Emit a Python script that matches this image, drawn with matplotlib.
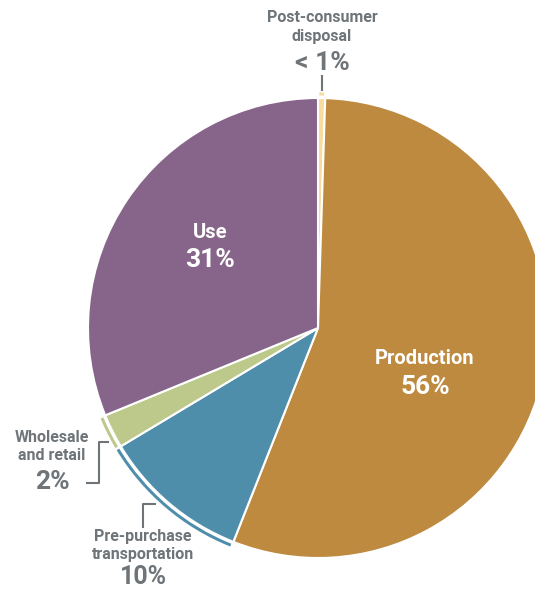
import matplotlib
matplotlib.use("Agg")
import matplotlib.pyplot as plt
from matplotlib.patches import Wedge

categories = ["Post-consumer disposal", "Production", "Pre-purchase transportation",
              "Wholesale and retail", "Use"]
values = [0.5, 55.5, 10.4, 2.4, 31.2]
labels_pct = ["< 1%", "56%", "10%", "2%", "31%"]
colors = ["#F7DC9F", "#BD8A3F", "#4F8EAB", "#BDC98A", "#87648A"]

W, H = 535, 590
fig = plt.figure(figsize=(W / 100, H / 100), dpi=100)
ax = fig.add_axes([0, 0, 1, 1])
ax.set_xlim(0, W)
ax.set_ylim(0, H)
ax.set_aspect("equal")
ax.axis("off")

cx, cy, R = 318, H - 328, 230
wedges, _ = ax.pie(values, colors=colors, startangle=90, counterclock=False,
                   center=(cx, cy), radius=R, frame=True,
                   wedgeprops=dict(edgecolor="white", linewidth=1.5))
ax.set_xlim(0, W)
ax.set_ylim(0, H)
ax.axis("off")

# outer accent rings for small labelled slices
for i in (0, 2, 3):
    w = wedges[i]
    ax.add_patch(Wedge((cx, cy), R + 5.5, w.theta1 + 0.3, w.theta2 - 0.3, width=3,
                       facecolor=colors[i], edgecolor="none"))

grey = "#6E7478"
fam = ["Roboto", "DejaVu Sans"]

def y(p):
    return H - p

# leader lines
ax.plot([322, 322], [y(75), y(91)], color=grey, lw=1.5, solid_capstyle="butt")
ax.plot([108, 99, 99, 87], [y(442), y(442), y(483), y(483)], color=grey, lw=1.5)
ax.plot([155, 143, 143], [y(504), y(504), y(527)], color=grey, lw=1.5)

def label(x, yy, lines, pct, col, fs_small, fs_big, gap_small=18, gap_big=26):
    for k, t in enumerate(lines):
        ax.text(x, y(yy + k * gap_small), t, ha="center", va="center", color=col,
                fontsize=fs_small, fontweight="bold", family=fam)
    ax.text(x, y(yy + (len(lines) - 1) * gap_small + gap_big), pct, ha="center",
            va="center", color=col, fontsize=fs_big, fontweight="bold", family=fam)

label(322, 17, ["Post-consumer", "disposal"], labels_pct[0], grey, 11.5, 19, 19, 27)
label(52, 437, ["Wholesale", "and retail"], labels_pct[3], grey, 11.5, 19, 18, 27)
label(143, 536, ["Pre-purchase", "transportation"], labels_pct[2], grey, 11.5, 18, 19, 22)
label(210, 233, ["Use"], labels_pct[4], "white", 14.5, 19, 18, 27)
label(425, 359, ["Production"], labels_pct[1], "white", 14.5, 19, 18, 28)

fig.savefig("out.png", dpi=100, facecolor="white")
